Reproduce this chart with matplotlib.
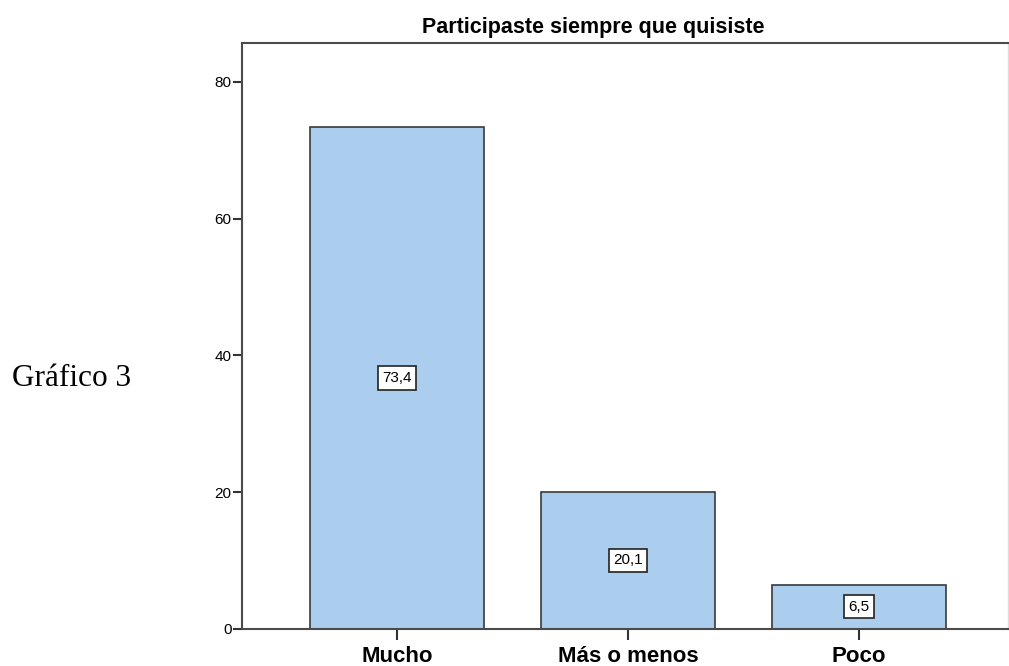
import matplotlib.pyplot as plt

# bar chart of answers, percentages per category
categories = ['Mucho', 'Más o menos', 'Poco']
values = [73.4, 20.1, 6.5]
yticks = [0, 20, 40, 60, 80]

plt.rcParams['font.family'] = ['Liberation Sans', 'DejaVu Sans']

W, H = 1009, 666
fig = plt.figure(figsize=(W / 100, H / 100), dpi=100)

# axes box in pixel coords: left 242, right 1008, top 43, bottom 629
ax = fig.add_axes([242 / W, 1 - 629 / H, (1008 - 242) / W, (629 - 43) / H])

x = list(range(len(categories)))
bars = ax.bar(x, values, width=0.753, color='#abcdee', edgecolor='#3a3a3a',
              linewidth=1.2, zorder=2)

for b, v in zip(bars, values):
    ax.text(b.get_x() + b.get_width() / 2, v / 2, f'{v:.1f}'.replace('.', ','),
            ha='center', va='center', fontsize=11, zorder=3,
            bbox=dict(boxstyle='square,pad=0.3', fc='white', ec='#222222', lw=1.2))

ax.set_xlim(-0.671, 2.645)
ax.set_ylim(0, 85.7)
ax.set_yticks(yticks)
ax.set_yticklabels([str(t) for t in yticks], fontsize=11)
ax.set_xticks(x)
ax.set_xticklabels(categories, fontsize=16, fontweight='bold')

ax.tick_params(axis='y', direction='out', length=6.5, width=1.5, color='#333333', pad=1)
ax.tick_params(axis='x', direction='out', length=8, width=1.5, color='#333333', pad=4)

for side in ['left', 'bottom', 'top']:
    ax.spines[side].set_color('#4a4a4a')
    ax.spines[side].set_linewidth(1.5)
ax.spines['right'].set_color('#dddddd')
ax.spines['right'].set_linewidth(1)

fig.text(593 / W, 1 - 27 / H, 'Participaste siempre que quisiste',
         ha='center', va='center', fontsize=15.5, fontweight='bold')

fig.text(12 / W, 1 - 378 / H, 'Gráfico 3', ha='left', va='center',
         fontsize=22.5, family=['Liberation Serif', 'DejaVu Serif'])

fig.savefig('out.png', dpi=100)
